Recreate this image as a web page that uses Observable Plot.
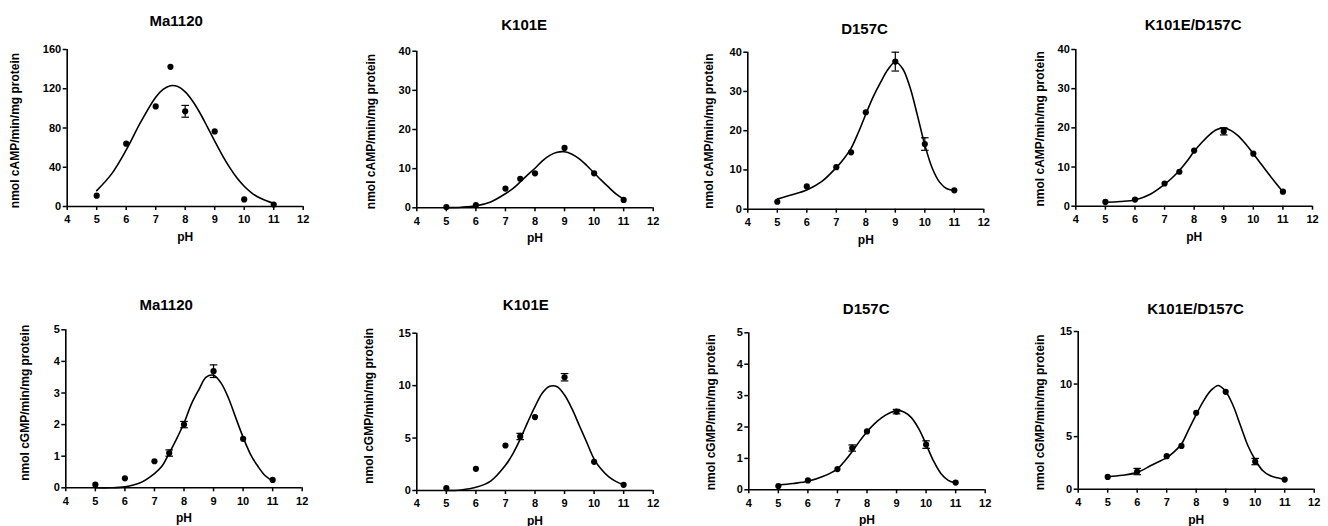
<!DOCTYPE html>
<html>
<head>
<meta charset="utf-8">
<script src="https://cdn.jsdelivr.net/npm/d3@7"></script>
<script src="https://cdn.jsdelivr.net/npm/@observablehq/plot@0.6"></script>
<style>
  body { margin: 0; background: #fff; }
  #wrap { position: relative; width: 1328px; height: 526px; background: #fff; }
  .panel { position: absolute; }
</style>
</head>
<body>
<div id="wrap"></div>
<script>
// ---------- data ----------
const pH = [5, 6, 7, 7.5, 8, 9, 10, 11];
const xTicks = [4, 5, 6, 7, 8, 9, 10, 11, 12];
const curvePH = [5, 5.5, 6, 6.5, 7, 7.25, 7.5, 7.75, 8, 8.25, 8.5, 8.75, 9, 9.25, 9.5, 9.75, 10, 10.25, 10.5, 10.75, 11];

const titles = ["Ma1120", "K101E", "D157C", "K101E/D157C"];
const yLabelCAMP = "nmol cAMP/min/mg protein";
const yLabelCGMP = "nmol cGMP/min/mg protein";
const xLabel = "pH";

const ticksCAMP_Ma1120 = [0, 40, 80, 120, 160];
const ticksCAMP = [0, 10, 20, 30, 40];
const ticksCGMP5 = [0, 1, 2, 3, 4, 5];
const ticksCGMP15 = [0, 5, 10, 15];

// cAMP activity (means, error)
const campMa1120 = [11, 64, 102, 142.3, 97, 76.5, 7.2, 2];
const campMa1120Err = [0, 0, 0, 0, 6, 0, 0, 0];
const campK101E = [0.2, 0.7, 4.9, 7.4, 8.8, 15.3, 8.8, 2.0];
const campK101EErr = [0, 0, 0, 0, 0, 0, 0, 0];
const campD157C = [1.9, 5.8, 10.7, 14.5, 24.7, 37.6, 16.6, 4.8];
const campD157CErr = [0, 0, 0, 0, 0, 2.4, 1.6, 0];
const campDouble = [1.1, 1.7, 5.8, 8.8, 14.2, 19.1, 13.4, 3.7];
const campDoubleErr = [0, 0, 0, 0, 0, 0.9, 0, 0];

// cGMP activity (means, error)
const cgmpMa1120 = [0.1, 0.3, 0.84, 1.1, 2.0, 3.69, 1.55, 0.25];
const cgmpMa1120Err = [0, 0, 0, 0.1, 0.1, 0.2, 0, 0];
const cgmpK101E = [0.22, 2.07, 4.29, 5.15, 7.0, 10.8, 2.73, 0.54];
const cgmpK101EErr = [0, 0, 0, 0.3, 0, 0.35, 0, 0];
const cgmpD157C = [0.12, 0.3, 0.66, 1.33, 1.86, 2.49, 1.44, 0.23];
const cgmpD157CErr = [0, 0, 0, 0.1, 0, 0.07, 0.12, 0];
const cgmpDouble = [1.17, 1.68, 3.14, 4.12, 7.26, 9.26, 2.63, 0.92];
const cgmpDoubleErr = [0, 0.3, 0, 0, 0, 0, 0.3, 0];

// fitted curves (at curvePH)
const fitCampMa1120 = [16.2, 33.0, 57.6, 86.4, 111.3, 119.3, 123.1, 122.2, 116.8, 107.5, 95.3, 81.2, 66.7, 52.7, 40.1, 29.3, 20.7, 14.0, 9.2, 5.8, 3.2];
const fitCampK101E = [0.05, 0.15, 0.5, 1.5, 3.6, 4.9, 6.6, 8.4, 10.1, 12.0, 13.4, 14.2, 14.3, 13.7, 12.5, 10.8, 8.9, 7.0, 5.2, 3.5, 2.2];
const fitCampD157C = [2.6, 3.7, 4.9, 7.0, 10.6, 12.8, 15.5, 19.6, 24.2, 28.6, 32.3, 35.6, 37.5, 35.8, 31.0, 23.9, 16.4, 10.5, 6.9, 5.2, 4.8];
const fitCampDouble = [1.0, 1.2, 1.6, 3.0, 5.6, 7.2, 9.1, 11.4, 14.0, 16.2, 18.1, 19.5, 20.0, 19.3, 17.9, 15.8, 13.4, 10.9, 8.4, 6.0, 3.7];
const fitCgmpMa1120 = [0.0, 0.0, 0.03, 0.15, 0.45, 0.68, 1.1, 1.55, 2.05, 2.65, 3.1, 3.5, 3.56, 3.32, 2.85, 2.22, 1.6, 1.06, 0.68, 0.38, 0.22];
const fitCgmpK101E = [0.0, 0.05, 0.3, 0.9, 2.4, 3.5, 4.9, 6.5, 8.0, 9.3, 9.94, 9.9, 9.1, 7.8, 6.2, 4.6, 3.0, 2.0, 1.3, 0.85, 0.55];
const fitCgmpD157C = [0.15, 0.2, 0.27, 0.42, 0.67, 0.92, 1.22, 1.55, 1.85, 2.1, 2.3, 2.44, 2.52, 2.48, 2.3, 1.95, 1.45, 0.92, 0.52, 0.3, 0.22];
const fitCgmpDouble = [1.18, 1.32, 1.6, 2.3, 3.0, 3.55, 4.3, 5.7, 7.1, 8.4, 9.4, 9.87, 9.3, 7.96, 6.06, 4.16, 2.8, 1.78, 1.3, 1.08, 0.92];

// ---------- layout (positions only) ----------
const panels = [
  {row: 0, col: 0, title: titles[0], ylab: yLabelCAMP, y: campMa1120, e: campMa1120Err, fit: fitCampMa1120, ymax: 160, ticks: ticksCAMP_Ma1120,
   m: [49, 29.3, 57, 66.7], t: [-9, -28.3], l: [-51.7, 2.5]},
  {row: 0, col: 1, title: titles[1], ylab: yLabelCAMP, y: campK101E, e: campK101EErr, fit: fitCampK101E, ymax: 40, ticks: ticksCAMP,
   m: [50.7, 11.3, 55.7, 84.3], t: [-10.8, -25.7], l: [-46, 2]},
  {row: 0, col: 2, title: titles[2], ylab: yLabelCAMP, y: campD157C, e: campD157CErr, fit: fitCampD157C, ymax: 40, ticks: ticksCAMP,
   m: [51.7, 12.7, 54.3, 83.3], t: [-1.3, -23.4], l: [-38.3, 0.5]},
  {row: 0, col: 3, title: titles[3], ylab: yLabelCAMP, y: campDouble, e: campDoubleErr, fit: fitCampDouble, ymax: 40, ticks: ticksCAMP,
   m: [49, 16, 57.3, 79.3], t: [-1, -24], l: [-36, 1]},
  {row: 1, col: 0, title: titles[0], ylab: yLabelCGMP, y: cgmpMa1120, e: cgmpMa1120Err, fit: fitCgmpMa1120, ymax: 5, ticks: ticksCGMP5,
   m: [66.3, 30.3, 38.7, 65.3], t: [-17.8, -24.3], l: [-40.3, -6]},
  {row: 1, col: 1, title: titles[1], ylab: yLabelCGMP, y: cgmpK101E, e: cgmpK101EErr, fit: fitCgmpK101E, ymax: 15, ticks: ticksCGMP15,
   m: [69.7, 11.3, 36, 84.3], t: [-9.2, -27.7], l: [-47.6, -6]},
  {row: 1, col: 2, title: titles[2], ylab: yLabelCGMP, y: cgmpD157C, e: cgmpD157CErr, fit: fitCgmpD157C, ymax: 5, ticks: ticksCGMP5,
   m: [69.3, 11.3, 36.7, 84.3], t: [-0.8, -24], l: [-37.6, 1]},
  {row: 1, col: 3, title: titles[3], ylab: yLabelCGMP, y: cgmpDouble, e: cgmpDoubleErr, fit: fitCgmpDouble, ymax: 15, ticks: ticksCGMP15,
   m: [68, 14.3, 37.3, 81.7], t: [-0.7, -22.7], l: [-38.4, 2]}
];

const capSymbol = {
  draw(context, size) {
    const r = Math.sqrt(size / Math.PI);
    context.moveTo(-r, 0);
    context.lineTo(r, 0);
  }
};

const W = 332, H = 263;
const wrap = document.getElementById("wrap");

for (const p of panels) {
  const pts = pH.map((x, i) => ({x, y: p.y[i], e: p.e[i]}));
  const errs = pts.filter(d => d.e > 0);
  const fit = curvePH.map((x, i) => ({x, y: p.fit[i]}));
  const [mt, mr, mb, ml] = p.m;
  const svg = Plot.plot({
    width: W, height: H,
    marginTop: mt, marginRight: mr, marginBottom: mb, marginLeft: ml,
    style: {fontFamily: "'Liberation Sans', Arial, sans-serif", fontSize: "11px", fontWeight: "bold", color: "#000", background: "transparent", overflow: "visible"},
    x: {domain: [4, 12]},
    y: {domain: [0, p.ymax]},
    marks: [
      Plot.axisX({ticks: xTicks, tickSize: 4, tickPadding: 5, label: null, tickFormat: d => String(d), strokeWidth: 1.5}),
      Plot.axisY({ticks: p.ticks, tickSize: 4, tickPadding: 2, label: null, tickFormat: d => String(d), strokeWidth: 1.5}),
      Plot.ruleX([4], {strokeWidth: 1.6}),
      Plot.ruleY([0], {strokeWidth: 1.6}),
      Plot.line(fit, {x: "x", y: "y", curve: "catmull-rom", strokeWidth: 1.6, stroke: "#000"}),
      Plot.ruleX(errs, {x: "x", y1: d => d.y - d.e, y2: d => d.y + d.e, strokeWidth: 1.2, stroke: "#000"}),
      Plot.dot(errs, {x: "x", y: d => d.y - d.e, symbol: capSymbol, r: 3.8, stroke: "#000", strokeWidth: 1.2}),
      Plot.dot(errs, {x: "x", y: d => d.y + d.e, symbol: capSymbol, r: 3.8, stroke: "#000", strokeWidth: 1.2}),
      Plot.dot(pts, {x: "x", y: "y", r: 3.1, fill: "#000", stroke: null}),
      Plot.text([p.title], {frameAnchor: "top", textAnchor: "middle", lineAnchor: "middle", dx: p.t[0], dy: p.t[1], fontSize: 15, fontWeight: "bold", fill: "#000"}),
      Plot.text([p.ylab], {frameAnchor: "left", textAnchor: "middle", lineAnchor: "middle", rotate: -90, dx: p.l[0], dy: p.l[1], fontSize: 12, fontWeight: "bold", fill: "#000"}),
      Plot.text([xLabel], {frameAnchor: "bottom", textAnchor: "middle", lineAnchor: "middle", dy: 30.5, fontSize: 12, fontWeight: "bold", fill: "#000"})
    ]
  });
  const div = document.createElement("div");
  div.className = "panel";
  div.style.left = (p.col * W) + "px";
  div.style.top = (p.row * H) + "px";
  div.appendChild(svg);
  wrap.appendChild(div);
}
</script>
</body>
</html>
